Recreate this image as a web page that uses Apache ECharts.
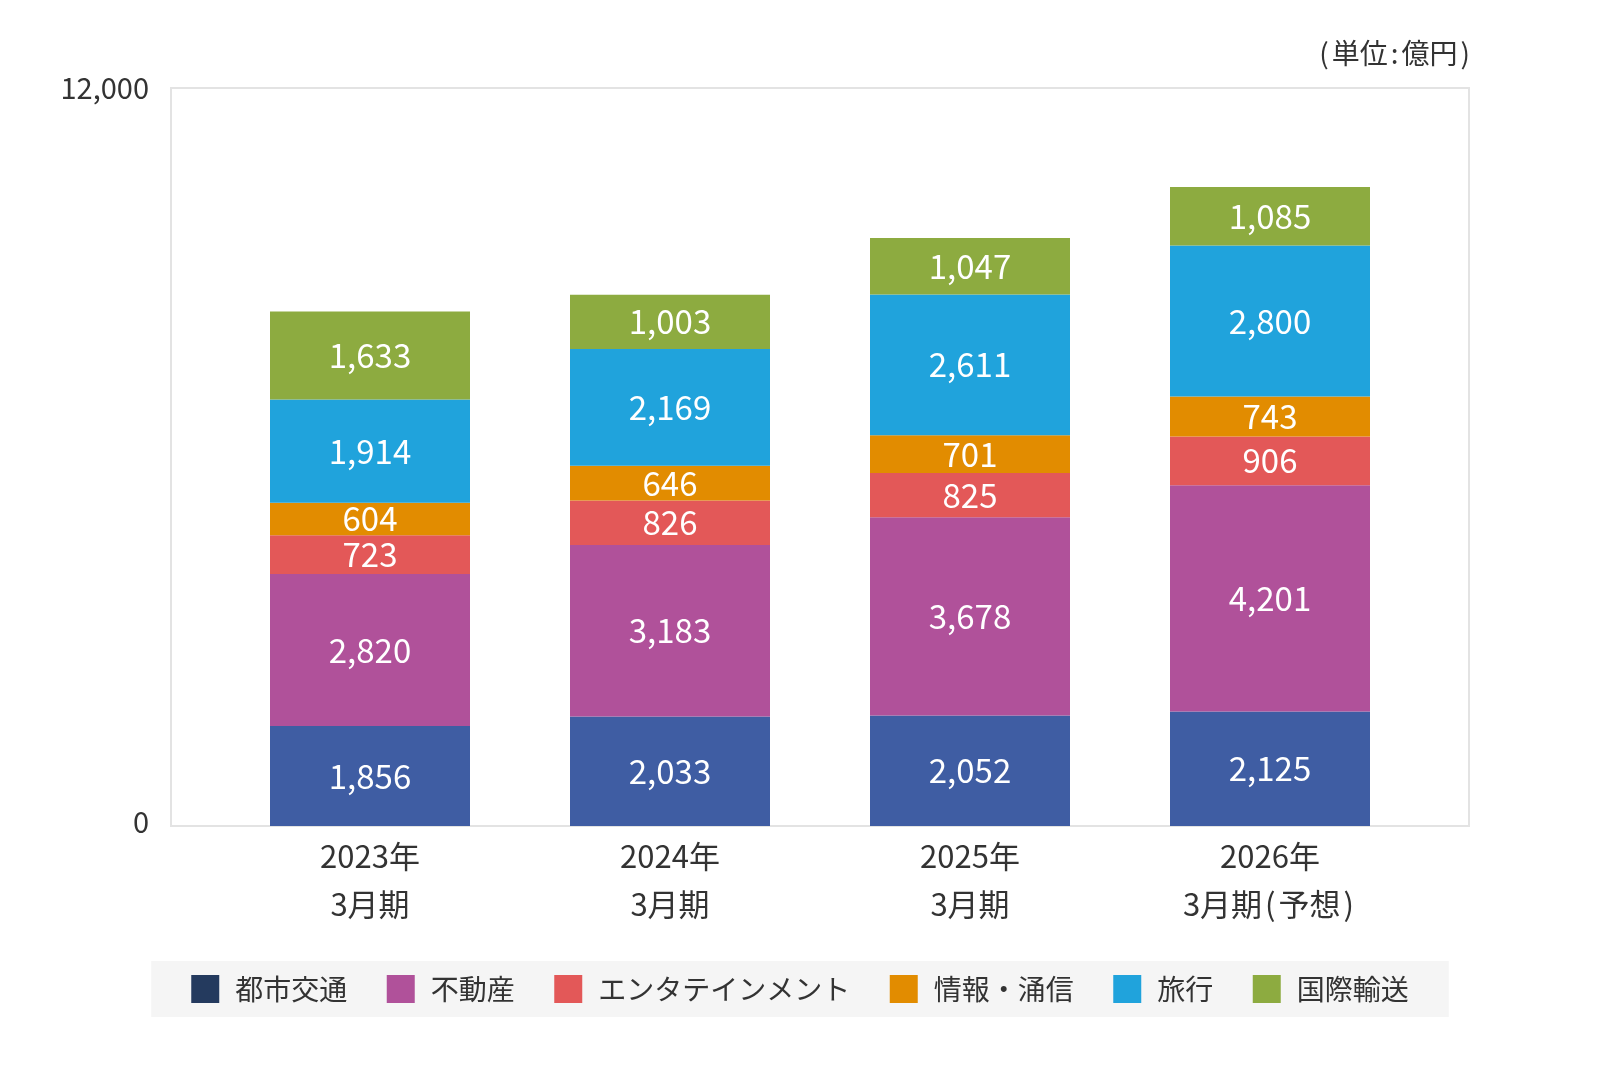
<!DOCTYPE html>
<html>
<head>
<meta charset="utf-8">
<script src="https://cdn.jsdelivr.net/npm/echarts@6/dist/echarts.min.js"></script>
<style>
  html, body { margin: 0; padding: 0; background: #ffffff; }
  #chart { width: 1600px; height: 1080px; }
</style>
</head>
<body>
<div id="chart"></div>
<script>
// ---- Data ----
const categories = ['2023年\n3月期', '2024年\n3月期', '2025年\n3月期', '2026年\n3月期(予想)'];
const seriesNames = ['都市交通', '不動産', 'エンタテインメント', '情報・涌信', '旅行', '国際輸送'];
const toshiKotsu    = [1856, 2033, 2052, 2125];
const fudosan       = [2820, 3183, 3678, 4201];
const entertainment = [723, 826, 825, 906];
const johoTsushin   = [604, 646, 701, 743];
const ryoko         = [1914, 2169, 2611, 2800];
const kokusaiYuso   = [1633, 1003, 1047, 1085];
const yTickLabels   = ['0', '12,000'];
const yAxisMax      = 13700; // scale (bar heights)
const unitText      = '(単位:億円)';

// ---- Styles ----
const barColors  = ['#3f5da3', '#b0519a', '#e35858', '#e28c00', '#20a3dc', '#8dab40'];
const legendIconColors = ['#243a5e', '#b0519a', '#e35858', '#e28c00', '#20a3dc', '#8dab40'];
const FONT = '"Noto Sans CJK JP", "Noto Sans", sans-serif';

const seriesData = [toshiKotsu, fudosan, entertainment, johoTsushin, ryoko, kokusaiYuso];

// wrap punctuation in a rich style that adds a little spacing (like proportional CJK punctuation)
const spacePunct = (s) => s.replace(/([():])/g, '{p|$1}');

const chart = echarts.init(document.getElementById('chart'));

const option = {
  animation: false,
  backgroundColor: '#ffffff',
  textStyle: { fontFamily: FONT },
  title: {
    text: spacePunct(unitText),
    right: 133,
    top: 39,
    padding: 0,
    textStyle: {
      fontFamily: FONT, fontSize: 28, fontWeight: 'normal', color: '#333333',
      rich: { p: { fontFamily: FONT, fontSize: 28, color: '#333333', padding: [0, 3, 0, 3] } }
    }
  },
  legend: {
    left: 'center',
    top: 961,
    padding: [14, 40],
    backgroundColor: '#f5f5f5',
    itemWidth: 28,
    itemHeight: 28,
    itemGap: 39.5,
    icon: 'rect',
    textStyle: { fontFamily: FONT, fontSize: 28, color: '#333333', padding: [0, 0, 0, 11] },
    data: seriesNames.map((n, i) => ({ name: n, itemStyle: { color: legendIconColors[i] } }))
  },
  grid: [
    { left: 171, top: 88, width: 1298, height: 738, show: true, borderColor: '#e3e3e3', borderWidth: 2, backgroundColor: 'transparent' },
    { left: 220, top: 88, width: 1200, height: 738 }
  ],
  xAxis: [
    { type: 'category', gridIndex: 0, data: categories, show: false },
    {
      type: 'category', gridIndex: 1, data: categories,
      axisLine: { show: false }, axisTick: { show: false },
      axisLabel: {
        interval: 0, hideOverlap: false,
        fontFamily: FONT, fontSize: 31, lineHeight: 48, color: '#333333', margin: 6,
        formatter: (v) => spacePunct(v),
        rich: { p: { fontFamily: FONT, fontSize: 31, lineHeight: 48, color: '#333333', padding: [0, 3, 0, 3] } }
      }
    }
  ],
  yAxis: [
    {
      type: 'value', gridIndex: 0, min: 0, max: yAxisMax, interval: yAxisMax,
      axisLine: { show: false }, axisTick: { show: false }, splitLine: { show: false },
      axisLabel: {
        fontFamily: FONT, fontSize: 29, color: '#333333', margin: 22,
        formatter: (v, i) => i === 0 ? '{z|' + yTickLabels[i] + '}' : yTickLabels[i],
        rich: { z: { fontFamily: FONT, fontSize: 29, color: '#333333', padding: [0, 0, 8, 0] } }
      }
    },
    { type: 'value', gridIndex: 1, min: 0, max: yAxisMax, show: false, splitLine: { show: false } }
  ],
  series: seriesNames.map((name, i) => ({
    name: name,
    type: 'bar',
    stack: 'total',
    xAxisIndex: 1,
    yAxisIndex: 1,
    barWidth: 200,
    data: seriesData[i],
    itemStyle: { color: barColors[i] },
    label: {
      show: true,
      position: 'inside',
      color: '#ffffff',
      fontFamily: FONT,
      fontSize: 33,
      formatter: (p) => p.value.toLocaleString('en-US')
    }
  }))
};

chart.setOption(option);
</script>
</body>
</html>
